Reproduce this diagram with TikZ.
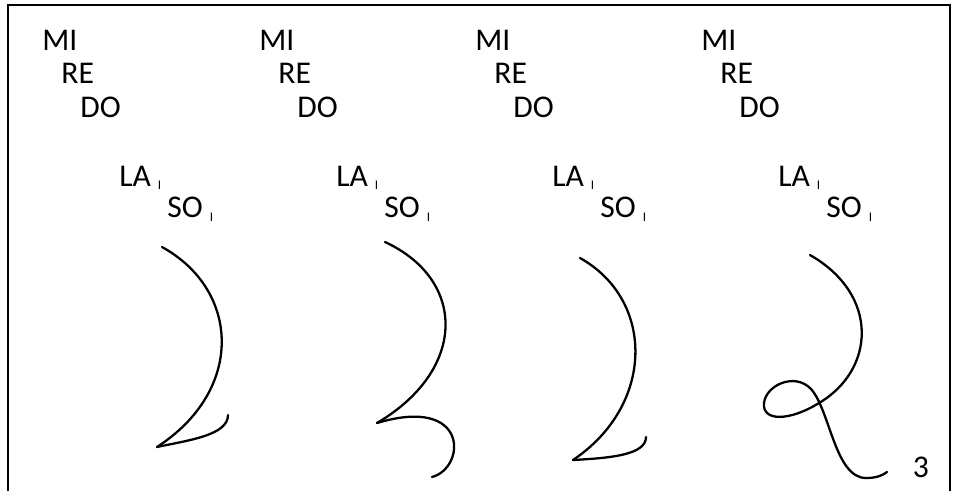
\documentclass[tikz,border=0pt]{standalone}
\usepackage{fontspec}
\setmainfont{Carlito}
\newcommand{\lowmark}[1]{#1\hspace{4pt}\raisebox{-2pt}{\fontsize{7.5}{8}\selectfont I}}
\tikzset{
  note/.style={anchor=west, inner sep=0pt, font=\fontsize{18}{20}\selectfont},
  stroke/.style={line width=1.3pt, line cap=round, line join=round}
}
\begin{document}
\begin{tikzpicture}[x=0.02cm, y=-0.02cm]
\useasboundingbox (0,0) rectangle (953,491);
\draw[line width=1.2pt] (8,491)--(8,5)--(950,5)--(950,491);

\foreach \g/\dx in {1/0, 2/217, 3/433, 4/659} {
  \node[note] (mi\g) at (42+\dx, 40) {MI};
  \node[note] (re\g) at (61+\dx, 73) {RE};
  \node[note] (do\g) at (80+\dx, 107) {DO};
  \node[note] (la\g) at (119+\dx, 178) {\lowmark{LA}};
  \node[note] (so\g) at (167+\dx, 209) {\lowmark{SO}};
}

\draw[stroke] (162,247) .. controls (240,290) and (245,390) .. (157,447);
\draw[stroke] (157,447) .. controls (190,440) and (228,435) .. (228,415);

\draw[stroke] (385,242) .. controls (467,280) and (467,370) .. (377,423);
\draw[stroke] (377,423) .. controls (470,395) and (466,468) .. (432,477);

\draw[stroke] (580,258) .. controls (655,300) and (655,405) .. (573,460);
\draw[stroke] (573,460) .. controls (610,458) and (646,455) .. (646,437);

\draw[stroke] (810,255) .. controls (880,295) and (875,370) .. (819,403)
  .. controls (790,421) and (762,422) .. (764,403)
  .. controls (766,385) and (795,372) .. (811,389)
  .. controls (830,410) and (835,478) .. (866,478)
  .. controls (875,478) and (882,476) .. (887,472);

\node[inner sep=0pt, font=\fontsize{18}{20}\selectfont] (num) at (921,467) {3};
\end{tikzpicture}
\end{document}
